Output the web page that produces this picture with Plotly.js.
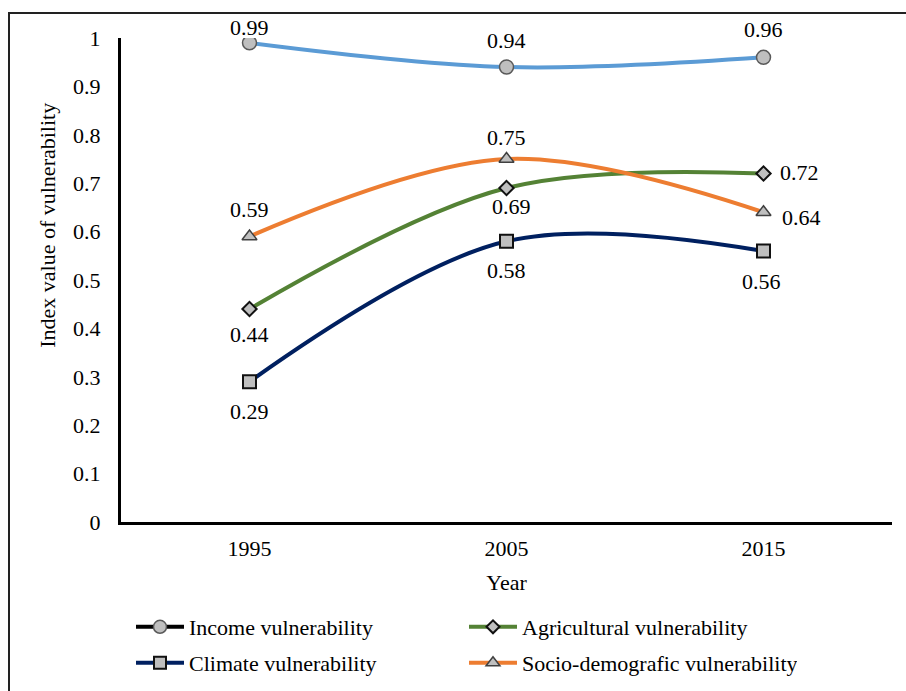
<!DOCTYPE html>
<html>
<head>
<meta charset="utf-8">
<script src="https://cdn.plot.ly/plotly-3.0.1.min.js"></script>
<style>
  html, body { margin:0; padding:0; background:#fff; overflow:hidden; }
  #chart { width:906px; height:691px; position:absolute; left:0; top:0; }
  #frame { position:absolute; left:8px; top:12px; width:1000px; height:1000px;
           border:2px solid #222; pointer-events:none; z-index:10; }
</style>
</head>
<body>
<div id="chart"></div>
<div id="frame"></div>
<script>
// ---- data ----
const years = ['1995', '2005', '2015'];
const income = [0.99, 0.94, 0.96];
const agricultural = [0.44, 0.69, 0.72];
const climate = [0.29, 0.58, 0.56];
const socio = [0.59, 0.75, 0.64];
const yTickVals = [0, 0.1, 0.2, 0.3, 0.4, 0.5, 0.6, 0.7, 0.8, 0.9, 1];
const yTickText = ['0', '0.1', '0.2', '0.3', '0.4', '0.5', '0.6', '0.7', '0.8', '0.9', '1'];
const seriesNames = ['Income vulnerability', 'Agricultural vulnerability', 'Climate vulnerability', 'Socio-demografic vulnerability'];

// ---- styles ----
const FONT = "Liberation Serif, serif";
const FS = 22;
const lineColors = ['#5b9bd5', '#548235', '#002060', '#ed7d31'];
const legendLineColors = ['#000000', '#548235', '#002060', '#ed7d31'];
const symbols = ['circle', 'diamond', 'square', 'triangle-up'];
const sizes = [14, 11, 13, 13];
const outline = [{color:'#595959', width:1.5}, {color:'#111', width:2}, {color:'#111', width:2}, {color:'#404040', width:1.5}];
// label offsets in px [dx, dy] per point
const shifts = [
  [[0, 15], [0, 27], [0, 28]],
  [[0, -25], [5, -18], [36, 1]],
  [[0, -30], [0, -29], [-2, -31]],
  [[0, 27], [0, 22], [38, -5]]
];
const seriesData = [income, agricultural, climate, socio];

const traces = [];
seriesData.forEach((vals, i) => {
  traces.push({
    type: 'scatter', mode: 'lines+markers',
    x: years, y: vals, name: seriesNames[i], showlegend: false,
    line: {color: lineColors[i], width: 4, shape: 'spline', smoothing: 1},
    marker: {symbol: symbols[i], size: sizes[i], color: '#bfbfbf', line: outline[i]},
    hoverinfo: 'x+y'
  });
});
// legend entries
seriesData.forEach((vals, i) => {
  traces.push({
    type: 'scatter', mode: 'lines+markers',
    x: [years[0]], y: [null], name: seriesNames[i],
    legend: i < 2 ? 'legend' : 'legend2',
    line: {color: legendLineColors[i], width: 4},
    marker: {symbol: symbols[i], size: sizes[i] - 1, color: '#bfbfbf', line: outline[i]}
  });
});

const annotations = [];
seriesData.forEach((vals, i) => {
  vals.forEach((v, j) => {
    annotations.push({
      x: j, y: v, xref: 'x', yref: 'y', text: String(v),
      xanchor: 'center', yanchor: 'middle',
      showarrow: false, xshift: shifts[i][j][0], yshift: shifts[i][j][1],
      font: {family: FONT, size: FS, color: '#000'}
    });
  });
});
annotations.push({
  xref: 'paper', yref: 'paper', x: -0.0947, y: 0.614, text: 'Index value of vulnerability',
  xanchor: 'center', yanchor: 'middle',
  textangle: -90, showarrow: false, font: {family: FONT, size: FS, color: '#000'}
});

const legendCommon = {
  orientation: 'h', xref: 'container', yref: 'container', xanchor: 'left', yanchor: 'middle',
  font: {family: FONT, size: FS, color: '#000'}, itemwidth: 48,
  entrywidth: 270, entrywidthmode: 'pixels', bgcolor: 'rgba(0,0,0,0)', traceorder: 'normal'
};

const layout = {
  width: 906, height: 691,
  margin: {l: 121, r: 14, t: 38, b: 169},
  paper_bgcolor: '#fff', plot_bgcolor: '#fff',
  font: {family: FONT, size: FS, color: '#000'},
  xaxis: {
    type: 'category', range: [-0.5, 2.5], showgrid: false, zeroline: false,
    showline: true, linecolor: '#000', linewidth: 3, ticks: '',
    ticklabelstandoff: 5, tickfont: {family: FONT, size: FS, color: '#000'},
    title: {text: 'Year', font: {family: FONT, size: FS, color: '#000'}, standoff: 15}
  },
  yaxis: {
    range: [0, 1], tickvals: yTickVals, ticktext: yTickText, showgrid: false, zeroline: false,
    showline: true, linecolor: '#000', linewidth: 3, ticks: '',
    ticklabelstandoff: 13, tickfont: {family: FONT, size: FS, color: '#000'}
  },
  showlegend: true,
  legend: Object.assign({}, legendCommon, {x: 131 / 906, y: 1 - 627 / 691}),
  legend2: Object.assign({}, legendCommon, {x: 131 / 906, y: 1 - 663 / 691}),
  annotations: annotations
};

Plotly.newPlot('chart', traces, layout, {displayModeBar: false, staticPlot: true});
</script>
</body>
</html>
